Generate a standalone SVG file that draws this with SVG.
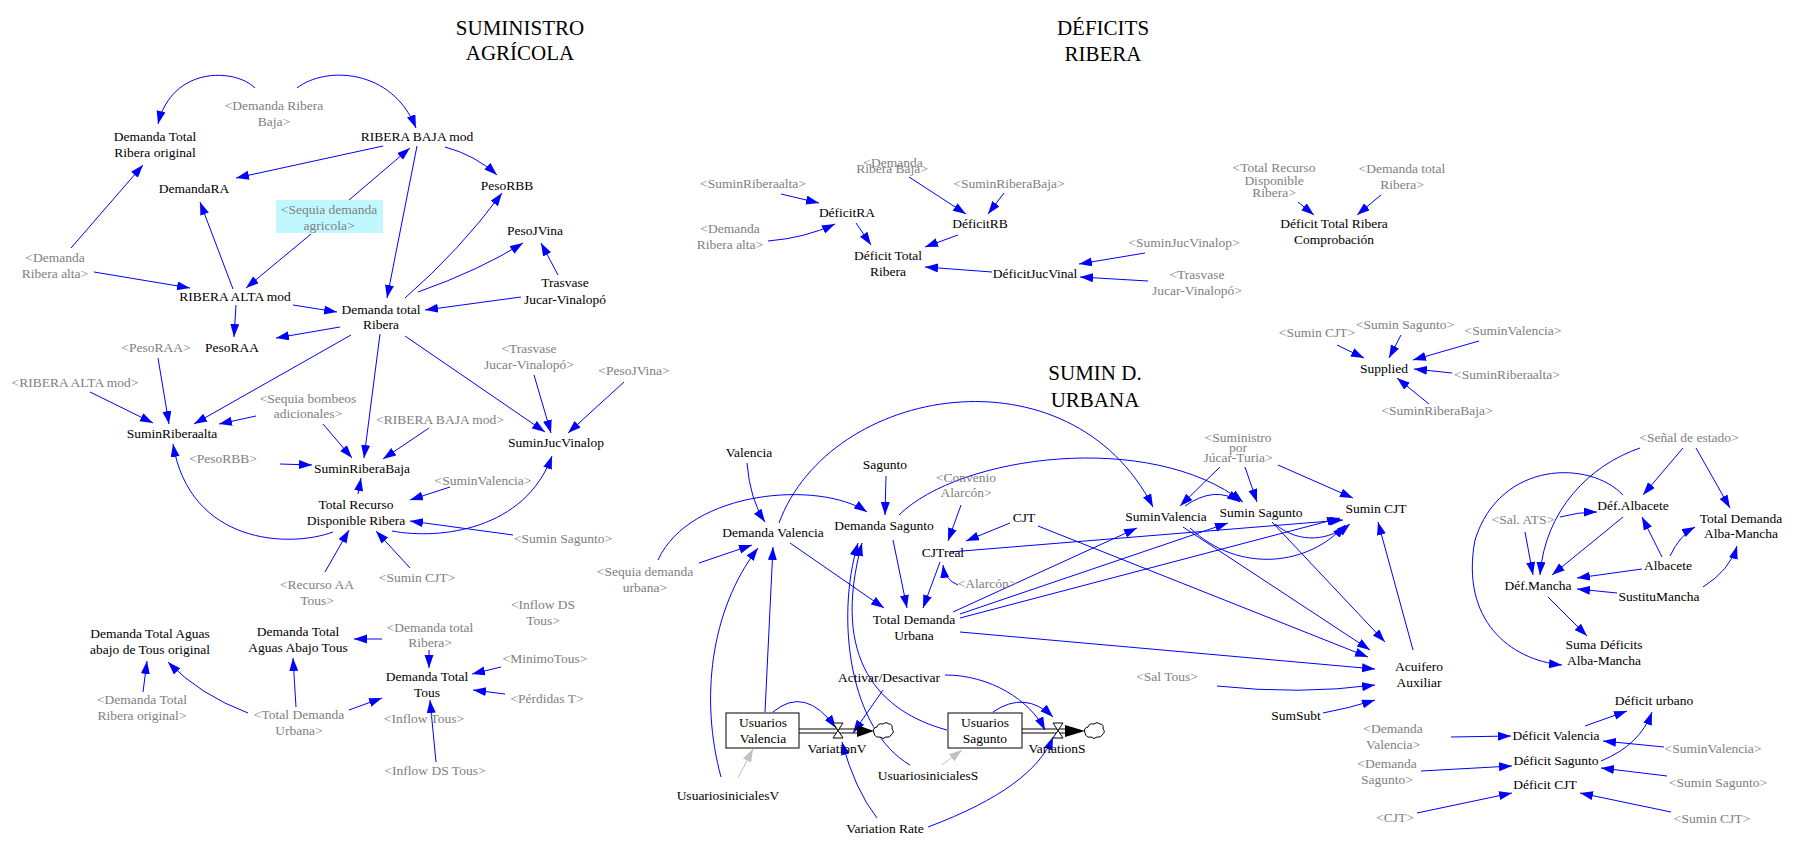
<svg xmlns="http://www.w3.org/2000/svg" width="1796" height="841" viewBox="0 0 1796 841">
<style>
text{font-family:"Liberation Serif","Times New Roman",serif;font-size:13.5px;text-anchor:middle}
.n{fill:#000}
.g{fill:#808080}
.t{font-size:21px;fill:#000}
.c path,.c line{fill:none;stroke:#0000ff;stroke-width:1}
.c .gr{stroke:#c0c0c0}
.box{fill:#fff;stroke:#000;stroke-width:1}
.pipe{stroke:#000;stroke-width:1;fill:none}
.cloud{fill:#fff;stroke:#000;stroke-width:1}
</style>
<defs>
<marker id="a" markerWidth="14" markerHeight="10" refX="13" refY="4.5" orient="auto" markerUnits="userSpaceOnUse"><path d="M0,0 L13,4.5 L0,9 z" fill="#0000ff"/></marker>
<marker id="ag" markerWidth="14" markerHeight="10" refX="13" refY="4.5" orient="auto" markerUnits="userSpaceOnUse"><path d="M0,0 L13,4.5 L0,9 z" fill="#c0c0c0"/></marker>
<path id="cl" d="M0,2 q-2,-5 3,-6 q1,-4 6,-3 q3,-3 6,0 q4,0 3,5 q3,3 -1,6 q-1,3 -5,2 q-3,3 -6,0 q-5,1 -6,-4 z"/>
</defs>
<rect width="1796" height="841" fill="#fff"/>

<g id="titles">
<text class="t" x="520" y="35">SUMINISTRO</text><text class="t" x="520" y="60">AGRÍCOLA</text>
<text class="t" x="1103" y="35">DÉFICITS</text><text class="t" x="1103" y="61">RIBERA</text>
<text class="t" x="1095" y="380">SUMIN D.</text><text class="t" x="1095" y="407">URBANA</text>
</g>

<g class="c" marker-end="url(#a)">
<path d="M255,88 C235,68 172,66 158,124"/>
<path d="M297,88 C325,66 392,68 416,128"/>
<path d="M383,146 L236,178"/>
<path d="M349,200 L410,148"/>
<path d="M311,234 L246,288"/>
<path d="M71,248 L143,165"/>
<path d="M94,272 L190,288"/>
<path d="M233,289 L200,202"/>
<path d="M417,146 L387,298"/>
<path d="M445,147 Q475,155 497,175"/>
<path d="M405,298 Q460,250 502,193"/>
<path d="M418,292 Q480,270 523,243"/>
<path d="M558,275 L541,243"/>
<path d="M521,297 L425,310"/>
<path d="M293,305 L337,312"/>
<path d="M340,327 L276,338"/>
<path d="M236,305 L234,337"/>
<path d="M158,358 L169,424"/>
<path d="M90,392 L153,423"/>
<path d="M351,335 L194,424"/>
<path d="M256,416 L219,424"/>
<path d="M323,424 L352,458"/>
<path d="M380,334 L364,458"/>
<path d="M429,428 L383,459"/>
<path d="M280,464 L312,465"/>
<path d="M358,494 L361,478"/>
<path d="M333,532 C290,548 190,545 173,444"/>
<path d="M450,487 L410,500"/>
<path d="M513,535 L410,521"/>
<path d="M392,531 C440,540 525,530 552,456"/>
<path d="M325,572 L349,530"/>
<path d="M410,568 L376,531"/>
<path d="M405,336 L545,432"/>
<path d="M534,375 L551,433"/>
<path d="M624,382 L568,433"/>
<path d="M382,639 L354,639"/>
<path d="M429,650 L429,668"/>
<path d="M296,707 L293,658"/>
<path d="M349,710 L382,698"/>
<path d="M248,713 Q200,695 168,662"/>
<path d="M143,692 L147,661"/>
<path d="M436,762 L430,700"/>
<path d="M501,667 L472,674"/>
<path d="M505,694 L473,690"/>
<path d="M781,194 L819,203"/>
<path d="M768,241 Q805,238 835,224"/>
<path d="M856,223 L871,245"/>
<path d="M909,177 L966,214"/>
<path d="M1004,193 L988,214"/>
<path d="M958,235 L925,247"/>
<path d="M992,272 L925,267"/>
<path d="M1145,253 L1079,264"/>
<path d="M1148,281 L1080,277"/>
<path d="M1298,202 L1314,215"/>
<path d="M1381,195 L1357,215"/>
<path d="M1337,345 L1364,358"/>
<path d="M1401,335 L1389,358"/>
<path d="M1479,341 L1413,360"/>
<path d="M1452,373 L1414,369"/>
<path d="M1429,404 L1397,378"/>
<path d="M747,463 Q750,500 765,522"/>
<path d="M886,476 L885,515"/>
<path d="M779,523 C830,385 1070,345 1153,507"/>
<path d="M899,515 C960,455 1150,430 1243,502"/>
<path d="M1185,506 Q1215,485 1240,502"/>
<path d="M1220,467 L1180,506"/>
<path d="M1245,467 L1257,502"/>
<path d="M1278,465 L1353,498"/>
<path d="M961,505 L948,541"/>
<path d="M1010,523 L966,541"/>
<path d="M950,552 L1343,520"/>
<path d="M790,543 L884,608"/>
<path d="M893,540 L907,608"/>
<path d="M940,562 L923,608"/>
<path d="M958,585 Q945,580 943,565"/>
<path d="M953,612 L1137,528"/>
<path d="M960,614 L1228,523"/>
<path d="M960,618 L1340,518"/>
<path d="M960,632 L1375,669"/>
<path d="M1217,686 Q1300,695 1375,685"/>
<path d="M1323,713 Q1350,708 1375,700"/>
<path d="M1413,650 L1378,522"/>
<path d="M1038,526 L1368,657"/>
<path d="M1183,527 L1370,650"/>
<path d="M1272,522 L1385,642"/>
<path d="M1190,528 C1240,575 1310,565 1345,525"/>
<path d="M1275,524 C1300,545 1330,540 1350,524"/>
<path d="M658,560 C690,490 820,480 867,512"/>
<path d="M699,563 L752,545"/>
<path d="M765,712 L773,547"/>
<path d="M721,777 C700,700 710,610 758,548"/>
<path d="M773,712 Q805,685 836,728"/>
<path d="M883,690 L853,733"/>
<path d="M877,818 Q855,790 842,742"/>
<path d="M947,730 C880,712 830,660 862,543"/>
<path d="M910,765 C850,730 835,620 858,543"/>
<path d="M993,712 Q1025,690 1053,717"/>
<path d="M945,675 C990,675 1030,700 1045,730"/>
<path d="M928,827 C1000,800 1040,770 1053,737"/>
<path d="M1683,448 L1643,495"/>
<path d="M1696,448 L1730,508"/>
<path d="M1640,448 C1590,465 1545,510 1540,575"/>
<path d="M1623,495 C1590,460 1500,460 1475,540 C1460,620 1510,660 1562,665"/>
<path d="M1560,517 Q1578,512 1597,512"/>
<path d="M1525,532 L1533,575"/>
<path d="M1623,517 L1552,575"/>
<path d="M1662,557 L1642,517"/>
<path d="M1670,556 Q1680,535 1695,527"/>
<path d="M1642,569 L1577,578"/>
<path d="M1617,593 L1577,589"/>
<path d="M1703,587 Q1730,570 1737,546"/>
<path d="M1548,597 L1587,636"/>
<path d="M1451,737 L1511,736"/>
<path d="M1664,747 L1603,741"/>
<path d="M1421,771 L1512,766"/>
<path d="M1667,776 L1601,768"/>
<path d="M1417,813 L1512,793"/>
<path d="M1671,812 L1580,793"/>
<path d="M1585,726 L1627,711"/>
<path d="M1601,761 Q1640,745 1652,712"/>
<path class="gr" marker-end="url(#ag)" d="M942,765 L962,750"/>
<path class="gr" marker-end="url(#ag)" d="M738,778 L753,749"/>
</g>

<g id="flowV">
<line class="pipe" x1="799" y1="729" x2="862" y2="729"/><line class="pipe" x1="799" y1="733" x2="862" y2="733"/>
<path d="M833,723 H843 L833,738 H843 Z" fill="#fff" stroke="#000"/>
<path d="M857,725 L874,731 L857,737 Z" fill="#000"/>
<use href="#cl" x="874" y="731" class="cloud"/>
</g>
<g id="flowS">
<line class="pipe" x1="1022" y1="729" x2="1068" y2="729"/><line class="pipe" x1="1022" y1="733" x2="1068" y2="733"/>
<path d="M1053,723 H1063 L1053,738 H1063 Z" fill="#fff" stroke="#000"/>
<path d="M1065,725 L1085,731 L1065,737 Z" fill="#000"/>
<use href="#cl" x="1085" y="731" class="cloud"/>
</g>

<g id="n_drb_g"><text class="g" x="274" y="110">&lt;Demanda Ribera</text><text class="g" x="274" y="126">Baja&gt;</text></g>
<g id="n_dtro"><text class="n" x="155" y="141">Demanda Total</text><text class="n" x="155" y="157">Ribera original</text></g>
<g id="n_rbm"><text class="n" x="417" y="141">RIBERA BAJA mod</text></g>
<g id="n_dra"><text class="n" x="194" y="193">DemandaRA</text></g>
<g id="n_sda"><rect x="276" y="200" width="107" height="33" fill="#bff9ff"/><text class="g" x="329" y="214">&lt;Sequia demanda</text><text class="g" x="329" y="230">agricola&gt;</text></g>
<g id="n_dral"><text class="g" x="55" y="262">&lt;Demanda</text><text class="g" x="55" y="278">Ribera alta&gt;</text></g>
<g id="n_ram"><text class="n" x="235" y="301">RIBERA ALTA mod</text></g>
<g id="n_dtr"><text class="n" x="381" y="314">Demanda total</text><text class="n" x="381" y="329">Ribera</text></g>
<g id="n_praa"><text class="n" x="232" y="352">PesoRAA</text></g>
<g id="n_praa_g"><text class="g" x="156" y="352">&lt;PesoRAA&gt;</text></g>
<g id="n_ram_g"><text class="g" x="75" y="387">&lt;RIBERA ALTA mod&gt;</text></g>
<g id="n_sba"><text class="g" x="308" y="403">&lt;Sequia bombeos</text><text class="g" x="308" y="418">adicionales&gt;</text></g>
<g id="n_rbm_g"><text class="g" x="440" y="424">&lt;RIBERA BAJA mod&gt;</text></g>
<g id="n_sra"><text class="n" x="172" y="438">SuminRiberaalta</text></g>
<g id="n_prbb_g"><text class="g" x="223" y="463">&lt;PesoRBB&gt;</text></g>
<g id="n_srb"><text class="n" x="362" y="473">SuminRiberaBaja</text></g>
<g id="n_trd"><text class="n" x="356" y="509">Total Recurso</text><text class="n" x="356" y="525">Disponible Ribera</text></g>
<g id="n_sv_g1"><text class="g" x="483" y="485">&lt;SuminValencia&gt;</text></g>
<g id="n_ss_g1"><text class="g" x="563" y="543">&lt;Sumin Sagunto&gt;</text></g>
<g id="n_raa_g"><text class="g" x="317" y="589">&lt;Recurso AA</text><text class="g" x="317" y="605">Tous&gt;</text></g>
<g id="n_scjt_g1"><text class="g" x="417" y="582">&lt;Sumin CJT&gt;</text></g>
<g id="n_prbb"><text class="n" x="507" y="190">PesoRBB</text></g>
<g id="n_pjv"><text class="n" x="535" y="235">PesoJVina</text></g>
<g id="n_tjv"><text class="n" x="565" y="287">Trasvase</text><text class="n" x="565" y="304">Jucar-Vinalopó</text></g>
<g id="n_tjv_g"><text class="g" x="529" y="353">&lt;Trasvase</text><text class="g" x="529" y="369">Jucar-Vinalopó&gt;</text></g>
<g id="n_pjv_g"><text class="g" x="634" y="375">&lt;PesoJVina&gt;</text></g>
<g id="n_sjv"><text class="n" x="556" y="447">SuminJucVinalop</text></g>
<g id="n_dtat"><text class="n" x="150" y="638">Demanda Total Aguas</text><text class="n" x="150" y="654">abajo de Tous original</text></g>
<g id="n_dtaat"><text class="n" x="298" y="636">Demanda Total</text><text class="n" x="298" y="652">Aguas Abajo Tous</text></g>
<g id="n_dtr_g"><text class="g" x="430" y="632">&lt;Demanda total</text><text class="g" x="430" y="647">Ribera&gt;</text></g>
<g id="n_dtt"><text class="n" x="427" y="681">Demanda Total</text><text class="n" x="427" y="697">Tous</text></g>
<g id="n_it_g"><text class="g" x="424" y="723">&lt;Inflow Tous&gt;</text></g>
<g id="n_idst_g"><text class="g" x="435" y="775">&lt;Inflow DS Tous&gt;</text></g>
<g id="n_idst2_g"><text class="g" x="543" y="609">&lt;Inflow DS</text><text class="g" x="543" y="625">Tous&gt;</text></g>
<g id="n_mt_g"><text class="g" x="545" y="663">&lt;MinimoTous&gt;</text></g>
<g id="n_pt_g"><text class="g" x="547" y="703">&lt;Pérdidas T&gt;</text></g>
<g id="n_dtro_g"><text class="g" x="142" y="704">&lt;Demanda Total</text><text class="g" x="142" y="720">Ribera original&gt;</text></g>
<g id="n_tdu_g"><text class="g" x="299" y="719">&lt;Total Demanda</text><text class="g" x="299" y="735">Urbana&gt;</text></g>

<g id="n_sra_g"><text class="g" x="753" y="188">&lt;SuminRiberaalta&gt;</text></g>
<g id="n_dfra"><text class="n" x="847" y="217">DéficitRA</text></g>
<g id="n_dral_g2"><text class="g" x="730" y="233">&lt;Demanda</text><text class="g" x="730" y="249">Ribera alta&gt;</text></g>
<g id="n_dtrib"><text class="n" x="888" y="260">Déficit Total</text><text class="n" x="888" y="276">Ribera</text></g>
<g id="n_drb_g2"><text class="g" x="893" y="167">&lt;Demanda</text><text class="g" x="892" y="173">Ribera Baja&gt;</text></g>
<g id="n_srbb_g"><text class="g" x="1009" y="188">&lt;SuminRiberaBaja&gt;</text></g>
<g id="n_dfrb"><text class="n" x="980" y="228">DéficitRB</text></g>
<g id="n_dfjv"><text class="n" x="1035" y="278">DéficitJucVinal</text></g>
<g id="n_sjv_g"><text class="g" x="1184" y="247">&lt;SuminJucVinalop&gt;</text></g>
<g id="n_tjv_g2"><text class="g" x="1197" y="279">&lt;Trasvase</text><text class="g" x="1197" y="295">Jucar-Vinalopó&gt;</text></g>
<g id="n_trd_g"><text class="g" x="1274" y="172">&lt;Total Recurso</text><text class="g" x="1274" y="185">Disponible</text><text class="g" x="1274" y="197">Ribera&gt;</text></g>
<g id="n_dtrc"><text class="n" x="1334" y="228">Déficit Total Ribera</text><text class="n" x="1334" y="244">Comprobación</text></g>
<g id="n_dtr_g2"><text class="g" x="1402" y="173">&lt;Demanda total</text><text class="g" x="1402" y="189">Ribera&gt;</text></g>

<g id="n_scjt_g2"><text class="g" x="1317" y="337">&lt;Sumin CJT&gt;</text></g>
<g id="n_ss_g2"><text class="g" x="1405" y="329">&lt;Sumin Sagunto&gt;</text></g>
<g id="n_sv_g2"><text class="g" x="1513" y="335">&lt;SuminValencia&gt;</text></g>
<g id="n_sup"><text class="n" x="1384" y="373">Supplied</text></g>
<g id="n_sra_g2"><text class="g" x="1507" y="379">&lt;SuminRiberaalta&gt;</text></g>
<g id="n_srbb_g2"><text class="g" x="1437" y="415">&lt;SuminRiberaBaja&gt;</text></g>

<g id="n_val"><text class="n" x="749" y="457">Valencia</text></g>
<g id="n_sag"><text class="n" x="885" y="469">Sagunto</text></g>
<g id="n_dv"><text class="n" x="773" y="537">Demanda Valencia</text></g>
<g id="n_ds"><text class="n" x="884" y="530">Demanda Sagunto</text></g>
<g id="n_ca_g"><text class="g" x="966" y="482">&lt;Convenio</text><text class="g" x="966" y="497">Alarcón&gt;</text></g>
<g id="n_cjt"><text class="n" x="1024" y="522">CJT</text></g>
<g id="n_cjtr"><text class="n" x="943" y="557">CJTreal</text></g>
<g id="n_alar_g"><text class="g" x="987" y="588">&lt;Alarcón&gt;</text></g>
<g id="n_sv"><text class="n" x="1166" y="521">SuminValencia</text></g>
<g id="n_ss"><text class="n" x="1261" y="517">Sumin Sagunto</text></g>
<g id="n_scjt"><text class="n" x="1376" y="513">Sumin CJT</text></g>
<g id="n_sjt_g"><text class="g" x="1238" y="442">&lt;Suministro</text><text class="g" x="1238" y="452">por</text><text class="g" x="1238" y="462">Júcar-Turia&gt;</text></g>
<g id="n_sdu_g"><text class="g" x="645" y="576">&lt;Sequia demanda</text><text class="g" x="645" y="592">urbana&gt;</text></g>
<g id="n_tdu"><text class="n" x="914" y="624">Total Demanda</text><text class="n" x="914" y="640">Urbana</text></g>
<g id="n_ad"><text class="n" x="889" y="682">Activar/Desactivar</text></g>
<g id="n_uv"><rect class="box" x="726" y="713" width="73" height="35"/><text class="n" x="763" y="727">Usuarios</text><text class="n" x="763" y="743">Valencia</text></g>
<g id="n_vv"><text class="n" x="837" y="753">VariationV</text></g>
<g id="n_uiv"><text class="n" x="728" y="800">UsuariosinicialesV</text></g>
<g id="n_us"><rect class="box" x="948" y="713" width="74" height="35"/><text class="n" x="985" y="727">Usuarios</text><text class="n" x="985" y="743">Sagunto</text></g>
<g id="n_vs"><text class="n" x="1057" y="753">VariationS</text></g>
<g id="n_uis"><text class="n" x="928" y="780">UsuariosinicialesS</text></g>
<g id="n_vr"><text class="n" x="885" y="833">Variation Rate</text></g>
<g id="n_st_g"><text class="g" x="1167" y="681">&lt;Sal Tous&gt;</text></g>
<g id="n_ssub"><text class="n" x="1296" y="720">SumSubt</text></g>
<g id="n_aa"><text class="n" x="1419" y="671">Acuifero</text><text class="n" x="1419" y="687">Auxiliar</text></g>

<g id="n_se_g"><text class="g" x="1689" y="442">&lt;Señal de estado&gt;</text></g>
<g id="n_dalb"><text class="n" x="1633" y="510">Déf.Albacete</text></g>
<g id="n_tdam"><text class="n" x="1741" y="523">Total Demanda</text><text class="n" x="1741" y="538">Alba-Mancha</text></g>
<g id="n_sats_g"><text class="g" x="1523" y="524">&lt;Sal. ATS&gt;</text></g>
<g id="n_alb"><text class="n" x="1668" y="570">Albacete</text></g>
<g id="n_dman"><text class="n" x="1538" y="590">Déf.Mancha</text></g>
<g id="n_sman"><text class="n" x="1659" y="601">SustituMancha</text></g>
<g id="n_sdam"><text class="n" x="1604" y="649">Suma Déficits</text><text class="n" x="1604" y="665">Alba-Mancha</text></g>

<g id="n_du"><text class="n" x="1654" y="705">Déficit urbano</text></g>
<g id="n_dv_g"><text class="g" x="1393" y="733">&lt;Demanda</text><text class="g" x="1393" y="749">Valencia&gt;</text></g>
<g id="n_dfv"><text class="n" x="1556" y="740">Déficit Valencia</text></g>
<g id="n_sv_g3"><text class="g" x="1713" y="753">&lt;SuminValencia&gt;</text></g>
<g id="n_ds_g"><text class="g" x="1387" y="768">&lt;Demanda</text><text class="g" x="1387" y="784">Sagunto&gt;</text></g>
<g id="n_dfs"><text class="n" x="1556" y="765">Déficit Sagunto</text></g>
<g id="n_ss_g3"><text class="g" x="1718" y="787">&lt;Sumin Sagunto&gt;</text></g>
<g id="n_dfc"><text class="n" x="1545" y="789">Déficit CJT</text></g>
<g id="n_cjt_g"><text class="g" x="1395" y="822">&lt;CJT&gt;</text></g>
<g id="n_scjt_g3"><text class="g" x="1712" y="823">&lt;Sumin CJT&gt;</text></g>
</svg>
